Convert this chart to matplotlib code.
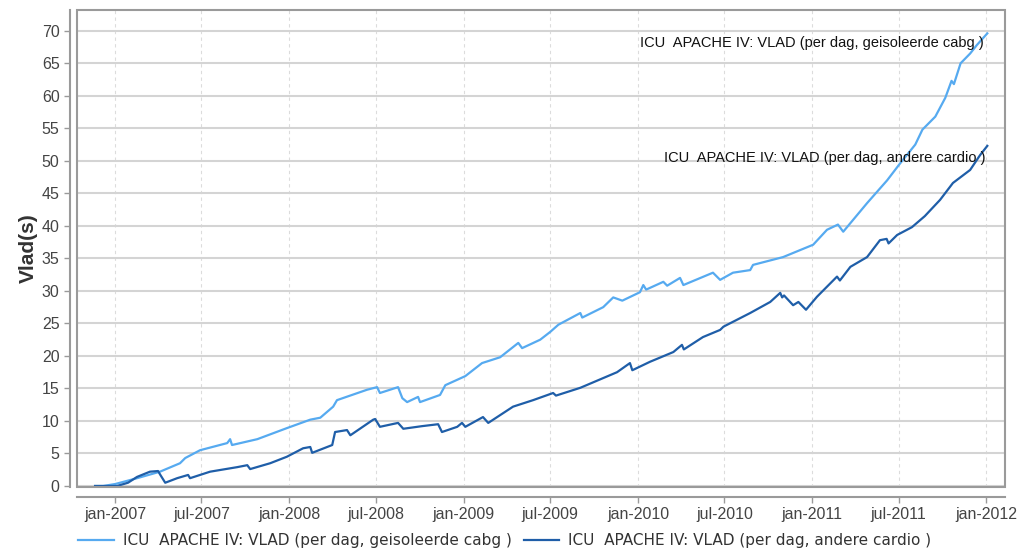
import matplotlib
matplotlib.use("Agg")
import matplotlib.pyplot as plt
from matplotlib.patches import Rectangle
import pandas as pd

# ---- data ----
cabg_dates = ["2006-11-20", "2006-12-07", "2007-01-01", "2007-02-16", "2007-04-05", "2007-05-17",
              "2007-05-28", "2007-06-28", "2007-08-24", "2007-08-30", "2007-09-03", "2007-10-26",
              "2007-12-27", "2008-02-14", "2008-03-06", "2008-04-02", "2008-04-10", "2008-06-12",
              "2008-07-03", "2008-07-09", "2008-08-16", "2008-08-25", "2008-09-04", "2008-09-27",
              "2008-10-01", "2008-11-12", "2008-11-23", "2009-01-04", "2009-02-08", "2009-03-18",
              "2009-04-25", "2009-05-03", "2009-06-10", "2009-07-01", "2009-07-18", "2009-09-02",
              "2009-09-06", "2009-10-20", "2009-11-10", "2009-11-29", "2010-01-05", "2010-01-12",
              "2010-01-18", "2010-02-23", "2010-03-03", "2010-03-30", "2010-04-06", "2010-06-07",
              "2010-06-22", "2010-07-19", "2010-08-24", "2010-08-30", "2010-11-01", "2011-01-03",
              "2011-02-01", "2011-02-24", "2011-03-07", "2011-04-26", "2011-06-07", "2011-07-02",
              "2011-08-05", "2011-08-20", "2011-09-16", "2011-10-07", "2011-10-20", "2011-10-25",
              "2011-11-08", "2011-11-28", "2011-12-12", "2012-01-03"]
cabg_values = [0.0, 0.0, 0.3, 1.2, 2.2, 3.5,
               4.3, 5.5, 6.6, 7.2, 6.3, 7.2,
               8.9, 10.2, 10.5, 12.2, 13.2, 14.8,
               15.2, 14.3, 15.2, 13.5, 12.9, 13.7,
               12.9, 14.0, 15.5, 16.9, 18.9, 19.8,
               22.0, 21.2, 22.5, 23.7, 24.8, 26.6,
               25.9, 27.5, 29.0, 28.5, 29.8, 30.9,
               30.2, 31.4, 30.8, 32.0, 30.9, 32.8,
               31.7, 32.8, 33.2, 34.0, 35.2, 37.1,
               39.4, 40.2, 39.1, 43.5, 47.0, 49.4,
               52.5, 54.8, 56.8, 59.7, 62.3, 61.8,
               65.0, 66.5, 67.8, 69.6]

cardio_dates = ["2006-11-20", "2007-01-05", "2007-01-28", "2007-02-16", "2007-03-15", "2007-04-01",
                "2007-04-05", "2007-04-16", "2007-05-11", "2007-06-03", "2007-06-07", "2007-07-19",
                "2007-09-14", "2007-10-05", "2007-10-11", "2007-11-22", "2007-12-27", "2008-01-30",
                "2008-02-14", "2008-02-18", "2008-03-31", "2008-04-06", "2008-05-01", "2008-05-08",
                "2008-06-25", "2008-06-29", "2008-07-09", "2008-08-16", "2008-08-27", "2008-10-05",
                "2008-11-08", "2008-11-16", "2008-12-18", "2008-12-28", "2009-01-04", "2009-02-10",
                "2009-02-21", "2009-04-14", "2009-05-26", "2009-07-07", "2009-07-13", "2009-09-02",
                "2009-11-18", "2009-12-15", "2009-12-20", "2010-01-26", "2010-03-16", "2010-04-03",
                "2010-04-07", "2010-05-17", "2010-06-22", "2010-06-29", "2010-08-24", "2010-10-05",
                "2010-10-26", "2010-10-30", "2010-11-03", "2010-11-22", "2010-12-03", "2010-12-19",
                "2011-01-11", "2011-02-22", "2011-02-28", "2011-03-22", "2011-04-26", "2011-05-23",
                "2011-06-06", "2011-06-10", "2011-06-28", "2011-07-29", "2011-08-25", "2011-09-26",
                "2011-10-23", "2011-11-28", "2011-12-19", "2012-01-03"]
cardio_values = [0.0, 0.0, 0.5, 1.4, 2.2, 2.3,
                 1.8, 0.5, 1.2, 1.7, 1.2, 2.2,
                 2.9, 3.2, 2.6, 3.5, 4.5, 5.8,
                 6.0, 5.1, 6.3, 8.3, 8.6, 7.8,
                 10.2, 10.3, 9.1, 9.7, 8.8, 9.2,
                 9.5, 8.3, 9.1, 9.7, 9.1, 10.6,
                 9.7, 12.2, 13.2, 14.3, 13.9, 15.1,
                 17.5, 18.9, 17.8, 19.1, 20.6, 21.7,
                 21.0, 22.9, 24.0, 24.5, 26.6, 28.3,
                 29.7, 29.0, 29.3, 27.8, 28.3, 27.1,
                 29.1, 32.2, 31.6, 33.7, 35.2, 37.8,
                 38.0, 37.3, 38.6, 39.8, 41.5, 44.0,
                 46.6, 48.6, 50.9, 52.3]

series_names = ["ICU  APACHE IV: VLAD (per dag, geisoleerde cabg )",
                "ICU  APACHE IV: VLAD (per dag, andere cardio )"]
y_ticks = list(range(0, 75, 5))
x_tick_dates = ["2007-01-01", "2007-07-01", "2008-01-01", "2008-07-01", "2009-01-01", "2009-07-01",
                "2010-01-01", "2010-07-01", "2011-01-01", "2011-07-01", "2012-01-01"]
x_tick_labels = ["jan-2007", "jul-2007", "jan-2008", "jul-2008", "jan-2009", "jul-2009",
                 "jan-2010", "jul-2010", "jan-2011", "jul-2011", "jan-2012"]

light = "#56AAF0"
dark = "#1F5EA8"

fig = plt.figure(figsize=(10.26, 5.54), dpi=100)
ax = fig.add_axes([0.075, 0.121, 0.9045, 0.861])

cd = pd.to_datetime(cabg_dates)
ad = pd.to_datetime(cardio_dates)
l1, = ax.plot(cd, cabg_values, color=light, lw=1.6, zorder=3)
l2, = ax.plot(ad, cardio_values, color=dark, lw=1.6, zorder=3)

ax.set_xlim(pd.Timestamp("2006-10-13"), pd.Timestamp("2012-02-09"))
ax.set_ylim(-0.15, 73.2)

ax.set_yticks(y_ticks)
ax.set_xticks(pd.to_datetime(x_tick_dates))
ax.set_xticklabels(x_tick_labels)

ax.grid(axis="y", color="#d4d4d4", lw=1.5, ls="-", zorder=0)
ax.grid(axis="x", color="#dcdcdc", lw=0.8, ls=(0, (3, 3)), zorder=0)

for s in ["top", "right"]:
    ax.spines[s].set_visible(False)
ax.spines["left"].set_position(("outward", 5))
ax.spines["bottom"].set_position(("outward", 7))
for s in ["left", "bottom"]:
    ax.spines[s].set_color("#9a9a9a")
    ax.spines[s].set_linewidth(1.5)
ax.add_patch(Rectangle((0, 0), 1, 1, transform=ax.transAxes, fill=False,
                       edgecolor="#9a9a9a", lw=1.5, clip_on=False, zorder=4))

ax.tick_params(axis="both", colors="#9a9a9a", length=4, width=1, labelcolor="#444444",
               labelsize=11.5)
for lab in ax.get_xticklabels() + ax.get_yticklabels():
    lab.set_family("Liberation Sans")

ax.set_ylabel("Vlad(s)", fontsize=15, fontweight="bold", color="#333333",
              family="Liberation Sans", labelpad=3)

# labels at the end of each line
ax.annotate(series_names[0], xy=(cd[-1], cabg_values[-1]), xytext=(-4, -10),
            textcoords="offset pixels", ha="right", va="center", fontsize=10.5,
            family="Liberation Sans", color="#111111", zorder=5)
ax.annotate(series_names[1], xy=(ad[-1], cardio_values[-1]), xytext=(-2, -12),
            textcoords="offset pixels", ha="right", va="center", fontsize=10.5,
            family="Liberation Sans", color="#111111", zorder=5)

fig.legend([l1, l2], series_names, loc="center", bbox_to_anchor=(0.492, 0.024),
           ncol=2, frameon=False, fontsize=11, handlelength=2.3, columnspacing=0.8,
           handletextpad=0.6, labelcolor="#333333")

fig.savefig("out.png", dpi=100, facecolor="white")
